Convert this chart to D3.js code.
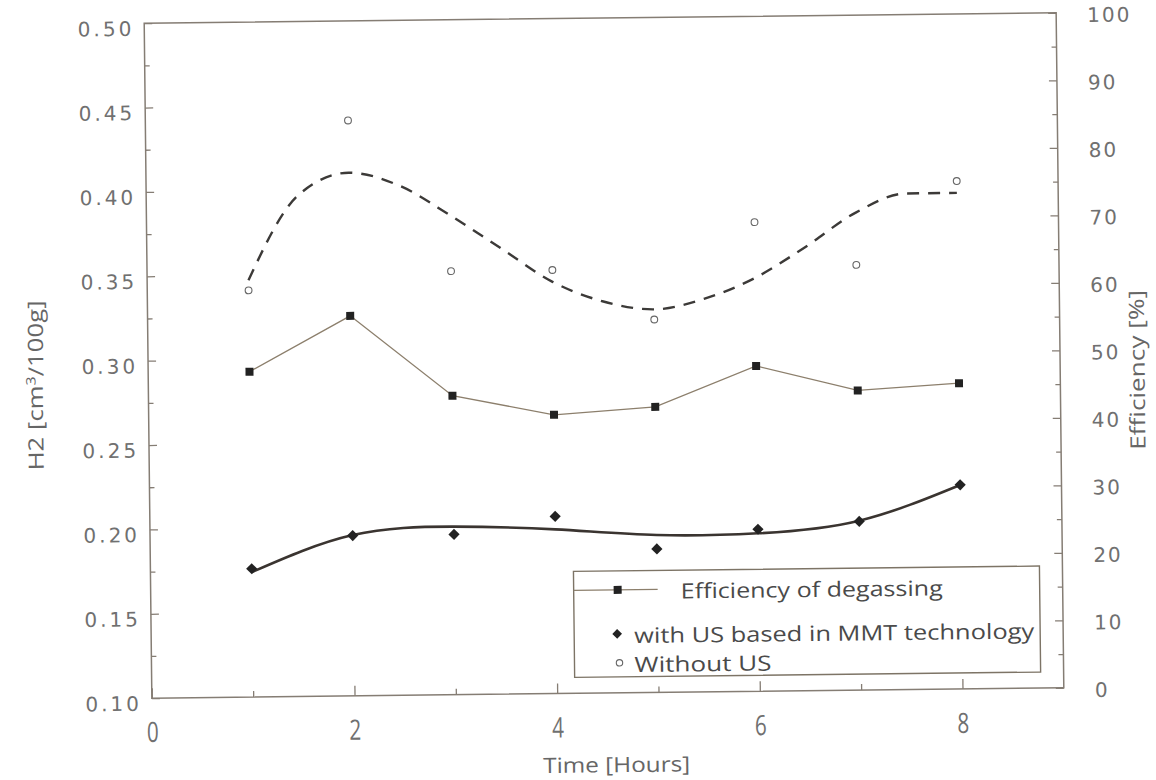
<!DOCTYPE html>
<html>
<head>
<meta charset="utf-8">
<script src="https://cdn.jsdelivr.net/npm/d3@7"></script>
<style>
  html, body { margin: 0; padding: 0; background: #fff; }
  svg { display: block; }
</style>
</head>
<body>
<script>
// ---------------- data ----------------
const hours = [1, 2, 3, 4, 5, 6, 7, 8];
const efficiency = [48.2, 56.3, 44.3, 41.3, 42.3, 48.2, 44.4, 45.3];          // % (right axis)
const withUS = [0.176, 0.195, 0.195, 0.205, 0.185, 0.196, 0.200, 0.221];      // H2 (left axis)
const withoutUS = [0.341, 0.441, 0.351, 0.351, 0.321, 0.378, 0.352, 0.401];   // H2 (left axis)
// fitted trend curves
const withUSFit = [0.174, 0.1953, 0.1996, 0.1973, 0.1933, 0.1936, 0.2004, 0.2209];
const fitHours = [1, 1.5, 2, 2.5, 3, 3.5, 4, 4.5, 5, 5.5, 6, 6.5, 7, 7.5, 8];
const withoutUSFit = [0.347, 0.397, 0.410, 0.402, 0.384, 0.364, 0.344, 0.332, 0.327, 0.333, 0.345, 0.363, 0.383, 0.394, 0.394];

const xMajorTicks = [0, 2, 4, 6, 8];
const xMinorTicks = [1, 3, 5, 7];
const leftMajorTicks = [0.10, 0.15, 0.20, 0.25, 0.30, 0.35, 0.40, 0.45, 0.50];
const leftMinorTicks = [0.125, 0.175, 0.225, 0.275, 0.325, 0.375, 0.425, 0.475];
const rightMajorTicks = [0, 10, 20, 30, 40, 50, 60, 70, 80, 90, 100];
const rightMinorTicks = [5, 15, 25, 35, 45, 55, 65, 75, 85, 95];

const legendLabels = ["Efficiency of degassing", "with US based in MMT technology", "Without US"];

// ---------------- layout ----------------
const W = 1156, H = 780;
const P = { left: 148, right: 1060, top: 18, bottom: 693 };
const ROT = -0.65, CX = 604, CY = 355;   // slight tilt of the scanned figure

const svg = d3.select("body").append("svg").attr("width", W).attr("height", H);
svg.append("rect").attr("width", W).attr("height", H).attr("fill", "#fff");
const g = svg.append("g").attr("transform", `rotate(${ROT},${CX},${CY})`);

const x = d3.scaleLinear().domain([0, 9]).range([P.left, P.right]);
const yL = d3.scaleLinear().domain([0.10, 0.50]).range([P.bottom, P.top]);
const yR = d3.scaleLinear().domain([0, 100]).range([P.bottom, P.top]);

const frameColor = "#857d74";
const tickTextColor = "#707070";
const tickFont = "'DejaVu Sans', sans-serif";
const titleFont = "'Open Sans', 'Noto Sans', sans-serif";

// frame
g.append("rect")
  .attr("x", P.left).attr("y", P.top)
  .attr("width", P.right - P.left).attr("height", P.bottom - P.top)
  .attr("fill", "none").attr("stroke", frameColor).attr("stroke-width", 1.5);

function styleAxis(sel) {
  sel.select(".domain").remove();
  sel.selectAll(".tick line").attr("stroke", frameColor).attr("stroke-width", 1.3);
}

// left axis
const axL = g.append("g").attr("transform", `translate(${P.left},0)`)
  .call(d3.axisLeft(yL).tickValues(leftMajorTicks).tickSize(-8).tickPadding(10).tickFormat(d3.format(".2f")));
styleAxis(axL);
axL.selectAll("text").attr("font-family", tickFont).attr("font-size", 20)
  .attr("letter-spacing", 3).attr("fill", tickTextColor).attr("dy", "0.6em");
const axLm = g.append("g").attr("transform", `translate(${P.left},0)`)
  .call(d3.axisLeft(yL).tickValues(leftMinorTicks).tickSize(-5).tickFormat(""));
styleAxis(axLm);

// right axis
const axR = g.append("g").attr("transform", `translate(${P.right},0)`)
  .call(d3.axisRight(yR).tickValues(rightMajorTicks).tickSize(-8).tickPadding(31).tickFormat(d3.format("d")));
styleAxis(axR);
axR.selectAll("text").attr("font-family", tickFont).attr("font-size", 20)
  .attr("letter-spacing", 2).attr("fill", tickTextColor).attr("dy", "0.45em");
const axRm = g.append("g").attr("transform", `translate(${P.right},0)`)
  .call(d3.axisRight(yR).tickValues(rightMinorTicks).tickSize(-5).tickFormat(""));
styleAxis(axRm);

// bottom axis
const axB = g.append("g").attr("transform", `translate(0,${P.bottom})`)
  .call(d3.axisBottom(x).tickValues(xMajorTicks).tickSize(-10).tickPadding(24).tickFormat(d3.format("d")));
styleAxis(axB);
axB.selectAll(".tick text").attr("font-family", titleFont).attr("font-size", 28)
  .attr("fill", tickTextColor).attr("transform", "scale(0.74,1)");
const axBm = g.append("g").attr("transform", `translate(0,${P.bottom})`)
  .call(d3.axisBottom(x).tickValues(xMinorTicks).tickSize(-6).tickFormat(""));
styleAxis(axBm);

// axis titles
const yTitle = g.append("text")
  .attr("transform", `translate(35,379) rotate(-90)`)
  .attr("text-anchor", "middle").attr("dy", "0.35em")
  .attr("font-family", titleFont).attr("font-size", 21).attr("fill", "#666")
  .attr("textLength", 170).attr("lengthAdjust", "spacingAndGlyphs");
yTitle.append("tspan").text("H2 [cm");
yTitle.append("tspan").attr("font-size", 13).attr("dy", "-0.55em").text("3");
yTitle.append("tspan").attr("dy", "0.38em").text("/100g]");

g.append("text")
  .attr("transform", `translate(1137,376) rotate(-90)`)
  .attr("text-anchor", "middle").attr("dy", "0.35em")
  .attr("font-family", titleFont).attr("font-size", 21).attr("fill", "#666")
  .attr("textLength", 160).attr("lengthAdjust", "spacingAndGlyphs")
  .text("Efficiency [%]");

g.append("text")
  .attr("x", 612).attr("y", 765)
  .attr("text-anchor", "middle").attr("dy", "0.35em")
  .attr("font-family", titleFont).attr("font-size", 21).attr("fill", "#666")
  .attr("textLength", 147).attr("lengthAdjust", "spacingAndGlyphs")
  .text("Time [Hours]");

// ---------------- series ----------------
const effData = hours.map((h, i) => ({ h, v: efficiency[i] }));
const withData = hours.map((h, i) => ({ h, v: withUS[i] }));
const withoutData = hours.map((h, i) => ({ h, v: withoutUS[i] }));
const withFitData = hours.map((h, i) => ({ h, v: withUSFit[i] }));
const withoutFitData = fitHours.map((h, i) => ({ h, v: withoutUSFit[i] }));

// dashed trend (without US)
g.append("path").datum(withoutFitData)
  .attr("fill", "none").attr("stroke", "#3c3a38").attr("stroke-width", 2.4)
  .attr("stroke-dasharray", "12,9")
  .attr("d", d3.line().x(d => x(d.h)).y(d => yL(d.v)).curve(d3.curveMonotoneX));

// solid trend (with US)
g.append("path").datum(withFitData)
  .attr("fill", "none").attr("stroke", "#3a3430").attr("stroke-width", 2.6)
  .attr("d", d3.line().x(d => x(d.h)).y(d => yL(d.v)).curve(d3.curveNatural));

// efficiency line
g.append("path").datum(effData)
  .attr("fill", "none").attr("stroke", "#8c7f6c").attr("stroke-width", 1.3)
  .attr("d", d3.line().x(d => x(d.h)).y(d => yR(d.v)));

// markers
g.selectAll(".sq").data(effData).join("rect")
  .attr("x", d => x(d.h) - 4).attr("y", d => yR(d.v) - 4)
  .attr("width", 8).attr("height", 8).attr("fill", "#222");

const diamond = d3.symbol().type(d3.symbolDiamond2).size(80);
g.selectAll(".dm").data(withData).join("path")
  .attr("transform", d => `translate(${x(d.h)},${yL(d.v)})`)
  .attr("d", diamond).attr("fill", "#222");

g.selectAll(".ci").data(withoutData).join("circle")
  .attr("cx", d => x(d.h)).attr("cy", d => yL(d.v)).attr("r", 3.4)
  .attr("fill", "#fff").attr("stroke", "#666").attr("stroke-width", 1.1);

// ---------------- legend ----------------
const lg = g.append("g");
lg.append("rect").attr("x", 571).attr("y", 571).attr("width", 466).attr("height", 106)
  .attr("fill", "#fff").attr("stroke", "#7d7466").attr("stroke-width", 1.4);
lg.append("line").attr("x1", 571).attr("x2", 655).attr("y1", 590).attr("y2", 590)
  .attr("stroke", "#8c7f6c").attr("stroke-width", 1.3);
lg.append("rect").attr("x", 611).attr("y", 586).attr("width", 8).attr("height", 8).attr("fill", "#222");
lg.append("path").attr("transform", "translate(614,634)").attr("d", d3.symbol().type(d3.symbolDiamond2).size(60)).attr("fill", "#222");
lg.append("circle").attr("cx", 616).attr("cy", 663).attr("r", 3.2).attr("fill", "#fff").attr("stroke", "#666").attr("stroke-width", 1.1);

const legendPos = [{ x: 678, y: 592, w: 262 }, { x: 631, y: 636, w: 400 }, { x: 631, y: 665, w: 137 }];
legendLabels.forEach((t, i) => {
  lg.append("text").attr("x", legendPos[i].x).attr("y", legendPos[i].y).attr("dy", "0.35em")
    .attr("font-family", titleFont).attr("font-size", 21).attr("fill", "#4a4a4a")
    .attr("textLength", legendPos[i].w).attr("lengthAdjust", "spacingAndGlyphs")
    .text(t);
});
</script>
</body>
</html>
